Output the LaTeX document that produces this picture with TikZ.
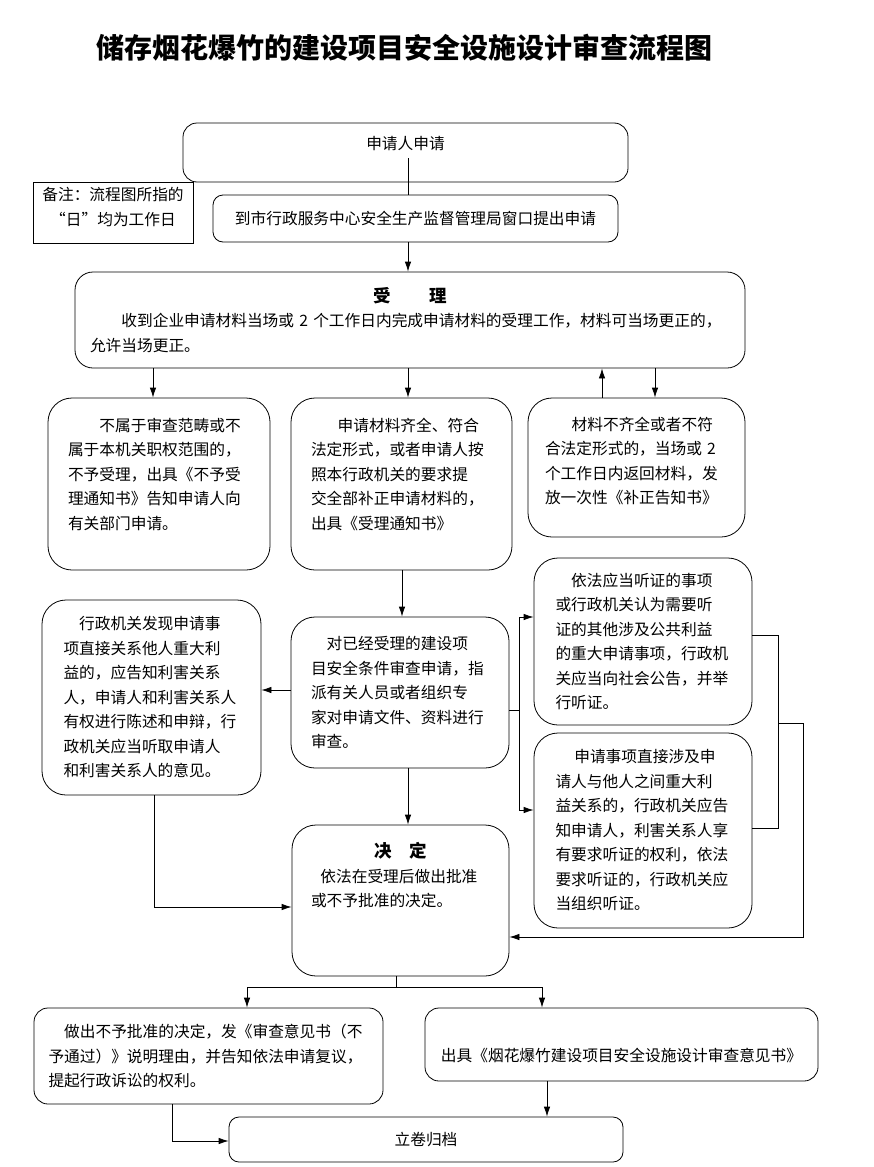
\documentclass[tikz,border=0pt]{standalone}
\usepackage{fontspec}
\setmainfont{Noto Sans CJK SC}
\usetikzlibrary{arrows.meta}

\begin{document}
\begin{tikzpicture}[x=1pt,y=-1pt,line width=0.8pt,
  font=\fontsize{15.7pt}{24.5pt}\selectfont,
  box/.style={draw,rounded corners=14pt,align=left,inner sep=0pt},
  tall/.style={box,rounded corners=24pt},
  arr/.style={-{Latex[length=10pt,width=6.5pt]}}]
\useasboundingbox (0,0) rectangle (874,1167);

\node[font=\fontsize{28pt}{30pt}\selectfont\bfseries] (title) at (404.5,48) {储存烟花爆竹的建设项目安全设施设计审查流程图};

% top part
\node[box,minimum width=445pt,minimum height=59pt,text height=12pt,text depth=19pt] (apply) at (405.5,152.5) {申请人申请};
\node[draw,align=center,inner sep=0pt,minimum width=160pt,minimum height=61pt,text width=150pt,text height=12pt,text depth=35.5pt] (note) at (113,212.5) {备注：流程图所指的\\“日”均为工作日};
\node[box,rounded corners=10pt,minimum width=405pt,minimum height=47pt] (window) at (415.5,218.5) {到市行政服务中心安全生产监督管理局窗口提出申请};
\node[box,rounded corners=18pt,minimum width=670pt,minimum height=96pt,text width=640pt] (accept) at (410,320)
  {\makebox[640pt]{\fontsize{17.5pt}{24.5pt}\selectfont\bfseries 受\hspace{2.2em}理}\\\hspace*{2em}收到企业申请材料当场或 2 个工作日内完成申请材料的受理工作，材料可当场更正的，\\允许当场更正。};

% second row
\node[tall,minimum width=222pt,minimum height=172pt,text width=182pt,text height=12pt,text depth=118pt] (reject) at (159,484)
  {\hspace*{2em}不属于审查范畴或不\\属于本机关职权范围的，\\不予受理，出具《不予受\\理通知书》告知申请人向\\有关部门申请。};
\node[tall,minimum width=221pt,minimum height=172pt,text width=181pt,text height=12pt,text depth=118pt] (issue) at (401.5,484)
  {\hspace*{1.7em}申请材料齐全、符合\\法定形式，或者申请人按\\照本行政机关的要求提\\交全部补正申请材料的，\\出具《受理通知书》};
\node[tall,minimum width=217pt,minimum height=139pt,text width=183pt,text height=12pt,text depth=86.5pt] (supplement) at (636.5,467.5)
  {\hspace*{1.7em}材料不齐全或者不符\\合法定形式的，当场或 2\\个工作日内返回材料，发\\放一次性《补正告知书》};

% review part
\node[tall,minimum width=218pt,minimum height=151pt,text width=178pt] (review) at (400,692.5)
  {\hspace*{1em}对已经受理的建设项\\目安全条件审查申请，指\\派有关人员或者组织专\\家对申请文件、资料进行\\审查。};
\node[tall,minimum width=219pt,minimum height=195pt,text width=176pt] (inform) at (151.5,697.5)
  {\hspace*{1em}行政机关发现申请事\\项直接关系他人重大利\\益的，应告知利害关系\\人，申请人和利害关系人\\有权进行陈述和申辩，行\\政机关应当听取申请人\\和利害关系人的意见。};
\node[tall,minimum width=218pt,minimum height=167pt,text width=175pt] (hearing) at (643,641.5)
  {\hspace*{1em}依法应当听证的事项\\或行政机关认为需要听\\证的其他涉及公共利益\\的重大申请事项，行政机\\关应当向社会公告，并举\\行听证。};
\node[tall,minimum width=218pt,minimum height=195pt,text width=175pt] (request) at (643,830.5)
  {\hspace*{1.2em}申请事项直接涉及申\\请人与他人之间重大利\\益关系的，行政机关应告\\知申请人，利害关系人享\\有要求听证的权利，依法\\要求听证的，行政机关应\\当组织听证。};

% decision part
\node[tall,minimum width=217pt,minimum height=151pt,text width=179pt,text height=12pt,text depth=98pt] (decide) at (400.5,900.5)
  {\makebox[179pt]{\fontsize{17.5pt}{24.5pt}\selectfont\bfseries 决\hspace{1em}定}\\\hspace*{0.6em}依法在受理后做出批准\\或不予批准的决定。};
\node[box,minimum width=349pt,minimum height=96pt,text width=320pt] (deny) at (208.5,1056)
  {\hspace*{1em}做出不予批准的决定，发《审查意见书（不\\予通过）》说明理由，并告知依法申请复议，\\提起行政诉讼的权利。};
\node[box,minimum width=393pt,minimum height=73pt,text height=33pt,text depth=0pt] (approve) at (621.5,1044.5) {出具《烟花爆竹建设项目安全设施设计审查意见书》};
\node[box,rounded corners=10pt,minimum width=394pt,minimum height=45pt] (archive) at (426,1139.5) {立卷归档};

\coordinate (applyin) at (408,158);
\coordinate (fork) at (519,710);
\coordinate (join) at (778,723);
\coordinate (side) at (803,723);
\coordinate (split) at (396,987);

\draw (applyin) -- (window.north -| applyin);
\draw[arr] (window.south -| 408,0) -- (accept.north -| 408,0);
\draw[arr] (accept.south -| 153,0) -- (reject.north -| 153,0);
\draw[arr] (accept.south -| 408,0) -- (issue.north -| 408,0);
\draw[arr] (supplement.north -| 602,0) -- (accept.south -| 602,0);
\draw[arr] (accept.south -| 655,0) -- (supplement.north -| 655,0);
\draw[arr] (issue.south -| 402,0) -- (review.north -| 402,0);
\draw[arr] (review.west |- 0,690) -- (inform.east |- 0,690);
\draw (review.east |- fork) -- (fork);
\draw[arr] (fork) |- (hearing.west |- 0,617);
\draw[arr] (fork) |- (request.west |- 0,810);
\draw (hearing.east |- 0,635) -| (join) |- (request.east |- 0,828);
\draw[arr] (join) -- (side) |- (decide.east |- 0,937);
\draw[arr] (inform.south -| 154,0) |- (decide.west |- 0,907);
\draw[arr] (review.south -| 408,0) -- (decide.north -| 408,0);
\draw (decide.south -| split) -- (split);
\draw[arr] (split) -| (deny.north -| 247,0);
\draw[arr] (split) -| (approve.north -| 542,0);
\draw[arr] (approve.south -| 547,0) -- (archive.north -| 547,0);
\draw[arr] (deny.south -| 172,0) |- (archive.west |- 0,1141);
\end{tikzpicture}
\end{document}
